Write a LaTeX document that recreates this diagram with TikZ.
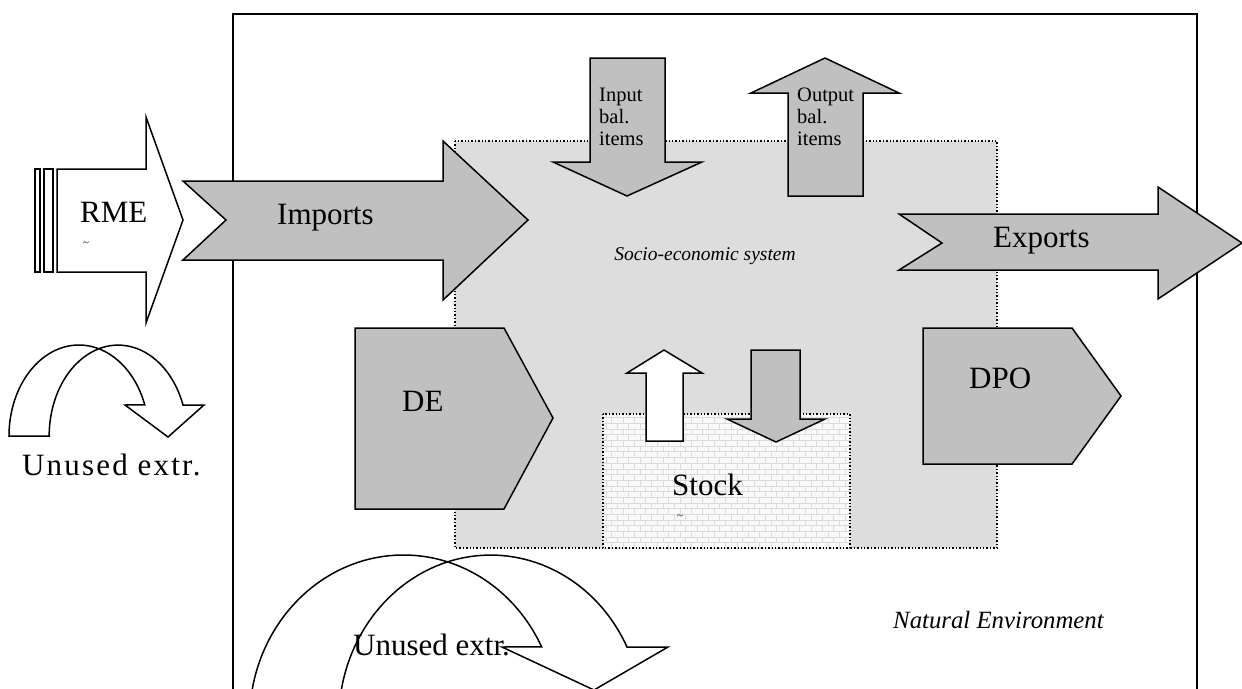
\documentclass[tikz,border=0pt]{standalone}
\usepackage{fontspec}
\setmainfont{Liberation Serif}
\usetikzlibrary{patterns}
\definecolor{arrowgray}{RGB}{192,192,192}
\definecolor{boxgray}{RGB}{221,221,221}
\tikzset{
  garrow/.style={draw=black, line width=1.5pt, fill=arrowgray, line join=miter},
  warrow/.style={draw=black, line width=1.5pt, fill=white, line join=miter},
  dotbox/.style={draw=black, line width=1.4pt, dotted},
  bigtext/.style={font=\fontsize{31}{37}\selectfont, inner sep=0pt, anchor=base west},
  midtext/.style={font=\fontsize{20.5}{22}\selectfont, inner sep=0pt, anchor=base west},
  ittext/.style={font=\itshape\fontsize{#1}{#1}\selectfont, inner sep=0pt},
  tinytext/.style={font=\fontsize{11}{12}\selectfont, inner sep=0pt}
}
\begin{document}
\begin{tikzpicture}[x=1pt,y=-1pt]
\useasboundingbox (0,0) rectangle (1242,688);
\clip (0,0) rectangle (1242,688);
% natural environment frame
\draw[line width=2pt] (233,720) -- (233,14) -- (1197,14) -- (1197,720);
% socio-economic system box
\fill[boxgray] (455,141) rectangle (997,548);
\draw[dotbox] (455,141) rectangle (997,548);
% stock box
\fill[gray!5] (603,414) rectangle (850,548);
\fill[pattern=bricks, pattern color=gray!28] (603,414) rectangle (850,548);
\draw[dotbox] (603,414) rectangle (850,548);
% RME arrow
\draw[warrow] (35,169) rectangle (40,272);
\draw[warrow] (44,169) rectangle (53,272);
\draw[warrow] (57,169) -- (146,169) -- (146,117) -- (183,220) -- (146,323) -- (146,272) -- (57,272) -- cycle;
% Imports arrow
\draw[garrow] (183,181) -- (443,181) -- (443,141) -- (528,220) -- (443,300) -- (443,260) -- (183,260) -- (226,220) -- cycle;
% Exports arrow
\draw[garrow] (899,214) -- (1158,214) -- (1158,187) -- (1242,243) -- (1158,299) -- (1158,270) -- (899,270) -- (942,243) -- cycle;
% Input / output balancing items
\draw[garrow] (590,58) -- (665,58) -- (665,162) -- (702,162) -- (627,196) -- (553,162) -- (590,162) -- cycle;
\draw[garrow] (788,196) -- (788,93) -- (751,93) -- (825,58) -- (899,93) -- (863,93) -- (863,196) -- cycle;
% DE and DPO
\draw[garrow] (355,328) -- (504,328) -- (553,418) -- (504,509) -- (355,509) -- cycle;
\draw[garrow] (923,328) -- (1072,328) -- (1121,396) -- (1072,464) -- (923,464) -- cycle;
% stock arrows
\draw[warrow] (646,441) -- (646,373) -- (627,373) -- (664,350) -- (702,373) -- (683,373) -- (683,441) -- cycle;
\draw[garrow] (751,350) -- (800,350) -- (800,419) -- (825,419) -- (776,442) -- (727,419) -- (751,419) -- cycle;
% small unused extraction arrow
\draw[warrow] (9,436) arc[start angle=180,end angle=340,x radius=70,y radius=91] -- (125,405) -- (168,437) -- (204,405) -- (183,405) arc[start angle=340,end angle=180,x radius=69,y radius=91] -- cycle;
% big unused extraction arrow
\fill[white] (249.6,720) arc[start angle=180,end angle=333.7,x radius=154,y radius=165] -- (502,647) -- (594,690) -- (668,647) -- (627,647) arc[start angle=333.7,end angle=180,x radius=152,y radius=165] -- cycle;
\node[bigtext] (unused2) at (353,655) {Unused extr.};
\draw[line width=1.5pt, line join=miter] (249.6,720) arc[start angle=180,end angle=333.7,x radius=154,y radius=165] -- (502,647) -- (594,690) -- (668,647) -- (627,647) arc[start angle=333.7,end angle=180,x radius=152,y radius=165] -- cycle;
% texts
\node[bigtext] (rme) at (80,222) {RME};
\node[tinytext] (rmemark) at (86,244) {\textasciitilde};
\node[bigtext] (imports) at (277,224) {Imports};
\node[bigtext] (exports) at (993,247) {Exports};
\node[bigtext] (de) at (402,411) {DE};
\node[bigtext] (dpo) at (969,388) {DPO};
\node[bigtext] (stock) at (672,495) {Stock};
\node[tinytext] (stockmark) at (680,517) {\textasciitilde};
\node[midtext] (in1) at (599,101) {Input};
\node[midtext] (in2) at (599,123) {bal.};
\node[midtext] (in3) at (599,145) {items};
\node[midtext] (out1) at (797,101) {Output};
\node[midtext] (out2) at (797,123) {bal.};
\node[midtext] (out3) at (797,145) {items};
\node[ittext=19.5, anchor=base] (socio) at (705,260) {Socio-economic system};
\node[ittext=24.8, anchor=base west] (natenv) at (893,628) {Natural Environment};
\node[bigtext, font=\addfontfeature{LetterSpace=7}\fontsize{31}{37}\selectfont] (unused1) at (22,475) {Unused extr.};
\end{tikzpicture}
\end{document}
